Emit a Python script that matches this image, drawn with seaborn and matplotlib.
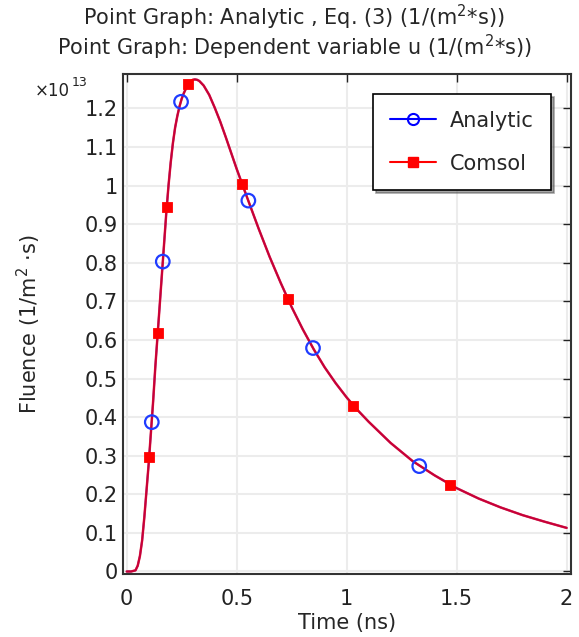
import numpy as np
import pandas as pd
import matplotlib
matplotlib.use('Agg')
import matplotlib.pyplot as plt
import seaborn as sns
from matplotlib.lines import Line2D
from matplotlib.ticker import FuncFormatter

# curve values (fluence in units of 1e13 1/(m^2*s))
time_ns = [0.0, 0.02, 0.04, 0.05, 0.06, 0.07, 0.08, 0.09, 0.10, 0.11, 0.12, 0.13,
           0.14, 0.15, 0.16, 0.17, 0.18, 0.19, 0.20, 0.21, 0.22, 0.23, 0.24, 0.25,
           0.26, 0.27, 0.28, 0.29, 0.30, 0.31, 0.32, 0.33, 0.35, 0.375, 0.40, 0.425,
           0.45, 0.50, 0.55, 0.60, 0.65, 0.70, 0.75, 0.80, 0.85, 0.90, 0.95, 1.0,
           1.05, 1.1, 1.2, 1.3, 1.4, 1.5, 1.6, 1.7, 1.8, 1.9, 2.0]
fluence = [0.0, 0.0, 0.003, 0.015, 0.04, 0.08, 0.14, 0.21, 0.28, 0.36, 0.44, 0.53,
           0.61, 0.69, 0.77, 0.85, 0.93, 1.0, 1.06, 1.11, 1.15, 1.18, 1.205, 1.225,
           1.24, 1.252, 1.262, 1.269, 1.274, 1.275, 1.274, 1.271, 1.259, 1.235, 1.202, 1.166,
           1.126, 1.043, 0.965, 0.888, 0.815, 0.748, 0.685, 0.628, 0.576, 0.529, 0.488, 0.451,
           0.418, 0.388, 0.333, 0.286, 0.249, 0.216, 0.189, 0.166, 0.146, 0.129, 0.113]

# marker positions
analytic_t = [0.114, 0.164, 0.247, 0.553, 0.847, 1.33]
analytic_y = [0.387, 0.803, 1.217, 0.961, 0.579, 0.273]
comsol_t = [0.103, 0.141, 0.182, 0.277, 0.524, 0.735, 1.03, 1.47]
comsol_y = [0.296, 0.619, 0.945, 1.262, 1.005, 0.707, 0.43, 0.224]

x_ticks = [0, 0.5, 1, 1.5, 2]
y_ticks = [0, 0.1, 0.2, 0.3, 0.4, 0.5, 0.6, 0.7, 0.8, 0.9, 1.0, 1.1, 1.2]

df = pd.DataFrame({'t': time_ns, 'u': fluence})

sns.set_style('white')
plt.rcParams['font.family'] = ['DejaVu Sans']
plt.rcParams['font.size'] = 15

fig = plt.figure(figsize=(5.79, 6.37), dpi=100)
ax = fig.add_axes([0.2124, 0.0989, 0.7738, 0.7849])

sns.lineplot(data=df, x='t', y='u', ax=ax, color='blue', lw=1.4)
sns.lineplot(data=df, x='t', y='u', ax=ax, color='red', lw=1.8, alpha=0.78)
sns.scatterplot(x=analytic_t, y=analytic_y, ax=ax, marker='o', s=95,
                facecolor='none', edgecolor='#1f3cff', linewidth=1.6, zorder=5)
sns.scatterplot(x=comsol_t, y=comsol_y, ax=ax, marker='s', s=55,
                color='red', edgecolor='red', zorder=5)

ax.set_xlim(-0.017, 2.02)
ax.set_ylim(-0.0065, 1.289)
ax.set_xticks(x_ticks)
ax.set_yticks(y_ticks)
fmt = FuncFormatter(lambda v, p: '%g' % v)
ax.xaxis.set_major_formatter(fmt)
ax.yaxis.set_major_formatter(fmt)
ax.tick_params(direction='in', length=6, width=1, top=True, right=True,
               labelsize=15, colors='#222222')
ax.tick_params(axis='x', pad=11)
ax.grid(True, color='#ececec', lw=1.5)
for s in ax.spines.values():
    s.set_color('#333333')
    s.set_linewidth(1.5)

ax.set_xlabel('Time (ns)', fontsize=15, labelpad=3)
ax.set_ylabel('Fluence (1/m$^2$ ·s)', fontsize=15, labelpad=30)
# scale factor shown at top left of the y axis
ax.text(-0.196, 0.966, '×10', transform=ax.transAxes, fontsize=12,
        ha='left', va='center', color='#222222')
ax.text(-0.114, 0.984, '13', transform=ax.transAxes, fontsize=9,
        ha='left', va='center', color='#222222')

fig.text(0.508, 0.972, 'Point Graph: Analytic , Eq. (3) (1/(m$^2$*s))',
         ha='center', va='center', fontsize=15)
fig.text(0.508, 0.925, 'Point Graph: Dependent variable u (1/(m$^2$*s))',
         ha='center', va='center', fontsize=15)

handles = [Line2D([], [], color='blue', lw=1.5, marker='o', mfc='none', mec='blue', ms=8, mew=1.5),
           Line2D([], [], color='red', lw=1.5, marker='s', ms=7)]
leg = ax.legend(handles, ['Analytic', 'Comsol'], loc='upper right',
                bbox_to_anchor=(0.955, 0.96), borderaxespad=0, frameon=True,
                fancybox=False, shadow=True, fontsize=15, handlelength=2.2,
                borderpad=0.8, labelspacing=1.1, handletextpad=0.7)
leg.get_frame().set_edgecolor('black')
leg.get_frame().set_linewidth(1.2)

fig.savefig('out.png', dpi=100)
